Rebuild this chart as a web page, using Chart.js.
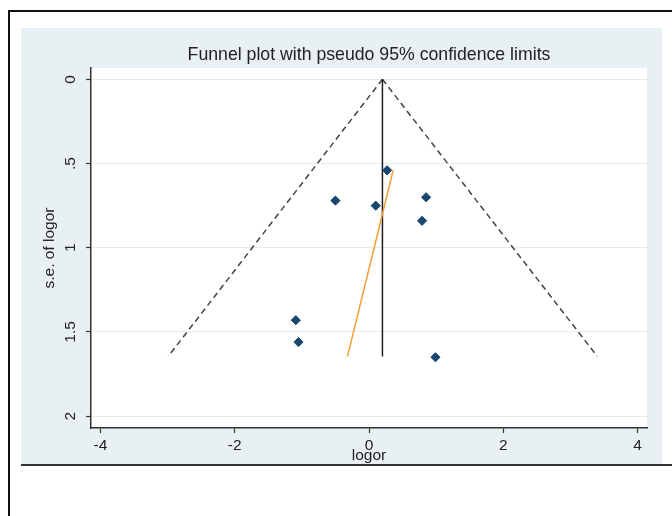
<!DOCTYPE html>
<html>
<head>
<meta charset="utf-8">
<title>Funnel plot</title>
<script src="https://cdn.jsdelivr.net/npm/chart.js@4.4.1/dist/chart.umd.min.js"></script>
<style>
    html, body { margin: 0; padding: 0; background: #fff; }
    #funnelChart { display: block; }
</style>
</head>
<body>
<canvas id="funnelChart" width="672" height="516"></canvas>
<script>
// Study estimates (log odds ratio) and their standard errors
const studyLogor = [0.27, -0.50, 0.10, 0.85, 0.79, -1.09, -1.05, 0.99];
const studySe = [0.54, 0.72, 0.75, 0.70, 0.84, 1.43, 1.56, 1.65];

// Pseudo 95% confidence limits (apex at pooled estimate)
const funnelSe = [0, 1.645];
const lowerLimit = [0.2, -2.99];
const upperLimit = [0.2, 3.40];
const pooledLogor = [0.2, 0.2];

// Regression line (orange)
const regLogor = [0.36, -0.32];
const regSe = [0.54, 1.645];

// Axis ticks
const xTicks = [-4, -2, 0, 2, 4];
const xTickLabels = ['-4', '-2', '0', '2', '4'];
const yTicks = [0, 0.5, 1, 1.5, 2];
const yTickLabels = ['0', '.5', '1', '1.5', '2'];

const FONT = "'Liberation Sans', Arial, sans-serif";
const TEXT = '#222';
const PANEL = '#e8f0f3';
const LABEL_SIZE = 15.5;

const toPoints = (xs, ys) => xs.map((x, i) => ({ x: x, y: ys[i] }));

// Stata-like graph region, outer frame and rotated y tick labels
const stataFrame = {
    id: 'stataFrame',
    beforeDraw(chart) {
        const ctx = chart.ctx;
        const area = chart.chartArea;
        ctx.save();
        ctx.fillStyle = '#fff';
        ctx.fillRect(0, 0, chart.width, chart.height);
        ctx.fillStyle = PANEL;
        ctx.fillRect(21, 28, 641, 436);
        ctx.fillStyle = '#fff';
        ctx.fillRect(area.left, area.top, area.right - area.left, area.bottom - area.top);

        ctx.strokeStyle = '#111';
        ctx.lineWidth = 2;
        ctx.beginPath();
        ctx.moveTo(672, 11);
        ctx.lineTo(9, 11);
        ctx.lineTo(9, 516);
        ctx.stroke();
        ctx.strokeStyle = '#333';
        ctx.beginPath();
        ctx.moveTo(21, 465);
        ctx.lineTo(672, 465);
        ctx.stroke();
        ctx.restore();
    },
    afterDraw(chart) {
        const ctx = chart.ctx;
        const yScale = chart.scales.y;
        ctx.save();
        ctx.font = LABEL_SIZE + 'px ' + FONT;
        ctx.fillStyle = TEXT;
        ctx.textAlign = 'center';
        ctx.textBaseline = 'middle';
        yTicks.forEach((v, i) => {
            ctx.save();
            ctx.translate(71, yScale.getPixelForValue(v));
            ctx.rotate(-Math.PI / 2);
            ctx.fillText(yTickLabels[i], 0, 0);
            ctx.restore();
        });
        ctx.restore();
    }
};

new Chart(document.getElementById('funnelChart'), {
    type: 'scatter',
    data: {
        datasets: [
            {
                label: 'Studies',
                data: toPoints(studyLogor, studySe),
                pointStyle: 'rectRot',
                pointRadius: 4.6,
                backgroundColor: '#1a476f',
                borderColor: '#1a476f',
                borderWidth: 1
            },
            {
                label: 'Regression',
                data: toPoints(regLogor, regSe),
                showLine: true,
                pointRadius: 0,
                borderColor: '#f2a035',
                borderWidth: 1.5
            },
            {
                label: 'Pooled',
                data: toPoints(pooledLogor, funnelSe),
                showLine: true,
                pointRadius: 0,
                borderColor: '#1e1e1e',
                borderWidth: 1.5
            },
            {
                label: 'Lower limit',
                data: toPoints(lowerLimit, funnelSe),
                showLine: true,
                pointRadius: 0,
                borderColor: '#444',
                borderWidth: 1.5,
                borderDash: [6, 4]
            },
            {
                label: 'Upper limit',
                data: toPoints(upperLimit, funnelSe),
                showLine: true,
                pointRadius: 0,
                borderColor: '#444',
                borderWidth: 1.5,
                borderDash: [6, 4]
            }
        ]
    },
    options: {
        responsive: false,
        animation: false,
        devicePixelRatio: 1,
        layout: { padding: { top: 28, left: 21, right: 25, bottom: 48 } },
        plugins: {
            legend: { display: false },
            tooltip: { enabled: false },
            title: {
                display: true,
                fullSize: false,
                text: 'Funnel plot with pseudo 95% confidence limits',
                color: TEXT,
                font: { family: FONT, size: 17.7, weight: 'normal' },
                padding: { top: 16.4, bottom: 2.4 }
            }
        },
        scales: {
            x: {
                type: 'linear',
                min: -4.14,
                max: 4.14,
                afterBuildTicks: scale => { scale.ticks = xTicks.map(v => ({ value: v })); },
                afterFit: scale => { scale.height = 40; },
                ticks: {
                    color: TEXT,
                    font: { family: FONT, size: LABEL_SIZE },
                    padding: 3.7,
                    maxRotation: 0,
                    callback: (v) => xTickLabels[xTicks.indexOf(v)]
                },
                grid: { drawOnChartArea: false, tickLength: 5, tickColor: '#333', tickWidth: 1.2 },
                border: { color: '#333', width: 1.5 },
                title: {
                    display: true,
                    text: 'logor',
                    color: TEXT,
                    font: { family: FONT, size: LABEL_SIZE, lineHeight: 1 },
                    padding: { top: 0, bottom: 4.5 }
                }
            },
            y: {
                type: 'linear',
                reverse: true,
                min: -0.067,
                max: 2.07,
                afterBuildTicks: scale => { scale.ticks = yTicks.map(v => ({ value: v })); },
                afterFit: scale => { scale.width = 70; },
                ticks: { display: false },
                grid: { color: '#e3ecef', lineWidth: 1, tickLength: 5, tickColor: '#333', tickWidth: 1.2 },
                border: { color: '#333', width: 1.5 },
                title: {
                    display: true,
                    text: 's.e. of logor',
                    color: TEXT,
                    font: { family: FONT, size: LABEL_SIZE },
                    padding: { top: 19.7, bottom: 0 }
                }
            }
        }
    },
    plugins: [stataFrame]
});
</script>
</body>
</html>
